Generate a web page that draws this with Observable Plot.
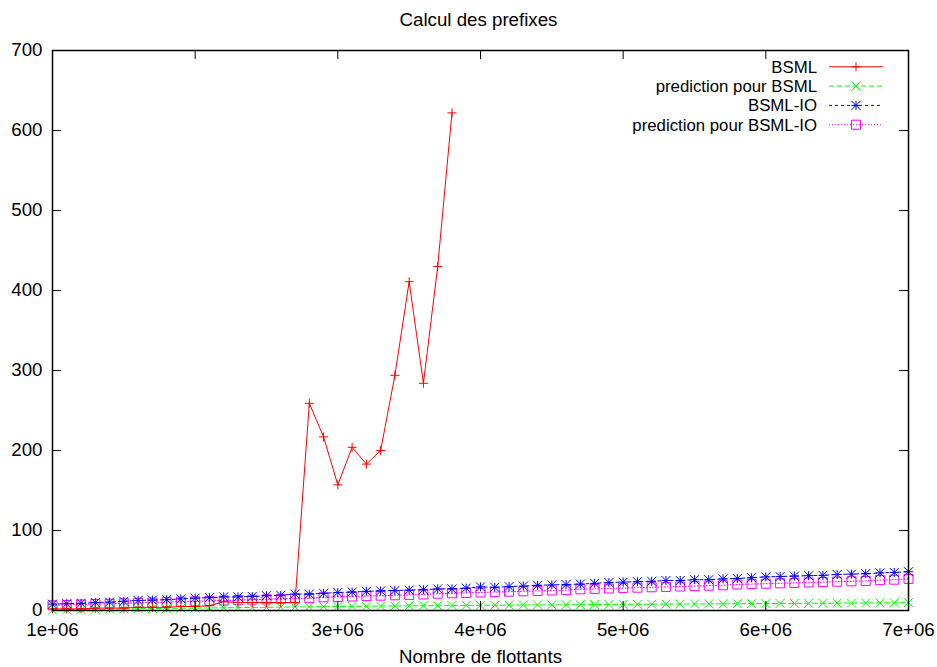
<!DOCTYPE html>
<html><head><meta charset="utf-8">
<script src="https://cdn.jsdelivr.net/npm/d3@7"></script>
<script src="https://cdn.jsdelivr.net/npm/@observablehq/plot@0.6"></script>
<style>html,body{margin:0;padding:0;background:#fff}</style>
</head><body><div id="chart"></div>
<script>
const FONT = "'Liberation Sans', Arial, Helvetica, sans-serif";
const FS = 18.7;
const KEY_FS = 16.8;

// number of floats, in millions
const nFloats = [1.0,1.1,1.2,1.3,1.4,1.5,1.6,1.7,1.8,1.9,2.0,2.1,2.2,2.3,2.4,2.5,2.6,2.7,2.8,2.9,
  3.0,3.1,3.2,3.3,3.4,3.5,3.6,3.7,3.8,3.9,4.0,4.1,4.2,4.3,4.4,4.5,4.6,4.7,4.8,4.9,
  5.0,5.1,5.2,5.3,5.4,5.5,5.6,5.7,5.8,5.9,6.0,6.1,6.2,6.3,6.4,6.5,6.6,6.7,6.8,6.9,7.0];

const bsml = [2,2,2,3,3,3,4,4,4,5,5,6,11,10,10,10,10,10,259,217,157,204,183,200,294,411,284,430,622];

const predBsml = [0.5,0.8,1.1,1.4,1.7,2.0,2.2,2.4,2.6,2.8,3.0,3.2,3.4,3.6,3.8,4.0,4.2,4.4,4.6,4.8,
  5.0,5.2,5.3,5.5,5.6,5.8,5.9,6.1,6.2,6.4,6.5,6.6,6.7,6.9,7.0,7.1,7.2,7.3,7.4,7.5,
  7.6,7.7,7.8,8.0,8.1,8.2,8.3,8.4,8.5,8.6,8.7,8.8,8.9,9.0,9.1,9.2,9.3,9.4,9.5,9.7,9.8];

const bsmlIO = [8,8.5,9,10,10.5,11.5,12.5,13,13.5,14.5,15.5,16,17,17,17.5,18.5,19,20.5,20.5,21.5,
  22.5,23,24,24.5,25,25.5,26,27,27,28,29.5,29,30,30.5,31.5,32,32.5,33,34,35,
  35.5,36,36.5,37.5,37.5,38.5,38.5,39.5,40,41,42,42.5,43,43.5,44,45,45.5,46,47,47.5,48.5];

const predBsmlIO = [6.5,7,7.5,8,8.5,9,9.5,10,10.5,11,11.5,12,12.5,13,13.5,14,14.5,15,15.5,16.5,
  17,17.5,18,18.5,19,19.5,20,21,21.5,22,22.5,23,23.5,24,24.5,25,25.5,26.5,27,27.5,
  28,28.5,29,29.5,30,30.5,31,31.5,32.5,33,33.5,34,34.5,35,35.5,36,36.5,37,38,38.5,39.5];

const xTicks = [1e6,2e6,3e6,4e6,5e6,6e6,7e6];
const xTickLabels = ["1e+06","2e+06","3e+06","4e+06","5e+06","6e+06","7e+06"];
const yTicks = [0,100,200,300,400,500,600,700];

const seriesNames = ["BSML","prediction pour BSML","BSML-IO","prediction pour BSML-IO"];
const seriesValues = [bsml, predBsml, bsmlIO, predBsmlIO];
const seriesColors = ["#ff0000","#00ff00","#0000ff","#ff00ff"];
const seriesDash = [null, "5,3", "3,3", "1,2"];

// gnuplot-like stroke symbols (half-length = sqrt(size/pi) = r)
const mk = (fn) => ({draw(ctx, size){ const s = Math.sqrt(size/Math.PI); fn(ctx, s); }});
const symPlus = mk((c,s)=>{c.moveTo(-s,0);c.lineTo(s,0);c.moveTo(0,-s);c.lineTo(0,s);});
const symCross = mk((c,s)=>{c.moveTo(-s,-s);c.lineTo(s,s);c.moveTo(-s,s);c.lineTo(s,-s);});
const symStar = mk((c,s)=>{c.moveTo(-s,0);c.lineTo(s,0);c.moveTo(0,-s);c.lineTo(0,s);
  c.moveTo(-s,-s);c.lineTo(s,s);c.moveTo(-s,s);c.lineTo(s,-s);});
const symBox = mk((c,s)=>{c.moveTo(-s,-s);c.lineTo(s,-s);c.lineTo(s,s);c.lineTo(-s,s);c.closePath();});
const seriesSymbols = [symPlus, symCross, symStar, symBox];
const R = 4.5;

const rows = (vals) => vals.map((v,i)=>({x: nFloats[i]*1e6, y: v}));

const W = 937, H = 667, ML = 52, MR = 29, MT = 50, MB = 57;
const frameW = W-ML-MR, frameH = H-MT-MB, TICK = 9;

const seriesMarks = [];
seriesValues.forEach((vals, k) => {
  const data = rows(vals);
  seriesMarks.push(Plot.line(data, {x:"x", y:"y", stroke: seriesColors[k], strokeWidth: 1,
    strokeDasharray: seriesDash[k] ?? undefined}));
  seriesMarks.push(Plot.dot(data, {x:"x", y:"y", symbol: seriesSymbols[k], r: R,
    stroke: seriesColors[k], fill: "none", strokeWidth: 1}));
});

const plot = Plot.plot({
  width: W, height: H,
  marginLeft: ML, marginRight: MR, marginTop: MT, marginBottom: MB,
  style: {fontFamily: FONT, fontSize: FS + "px", background: "white", color: "black"},
  x: {domain: [1e6, 7e6]},
  y: {domain: [0, 700]},
  marks: [
    ...seriesMarks.slice(6), ...seriesMarks.slice(4,6), ...seriesMarks.slice(2,4), ...seriesMarks.slice(0,2),
    Plot.tickX(xTicks, {x: d=>d, insetTop: frameH-TICK, stroke: "black"}),
    Plot.tickX(xTicks, {x: d=>d, insetBottom: frameH-TICK, stroke: "black"}),
    Plot.tickY(yTicks, {y: d=>d, insetRight: frameW-TICK, stroke: "black"}),
    Plot.tickY(yTicks, {y: d=>d, insetLeft: frameW-TICK, stroke: "black"}),
    Plot.frame({stroke: "black", strokeWidth: 1.5}),
    Plot.axisX({ticks: xTicks, tickSize: 0, tickPadding: 12, label: null,
      tickFormat: d => xTickLabels[xTicks.indexOf(d)], fontSize: FS}),
    Plot.axisY({ticks: yTicks, tickSize: 0, tickPadding: 10, label: null, fontSize: FS}),
    Plot.text(["Calcul des prefixes"], {frameAnchor: "top", lineAnchor: "middle", dy: -30, dx: -2, fontSize: FS, fill: "black"}),
    Plot.text(["Nombre de flottants"], {frameAnchor: "bottom", lineAnchor: "middle", dy: 47, fontSize: FS, fill: "black"})
  ]
});

// legend (gnuplot key, top right inside the frame)
const svg = d3.select(plot);
const key = svg.append("g").attr("font-family", FONT).attr("font-size", KEY_FS);
const keyTextX = 817, keyLine0 = 829, keyLine1 = 883, keyMark = 856, keyY0 = 66.8, keyDY = 19.3;
seriesNames.forEach((name, k) => {
  const y = keyY0 + k*keyDY;
  key.append("text").attr("x", keyTextX).attr("y", y).attr("dy", "0.35em")
    .attr("text-anchor", "end").attr("fill", "black").text(name);
  key.append("line").attr("x1", keyLine0).attr("x2", keyLine1).attr("y1", y).attr("y2", y)
    .attr("stroke", seriesColors[k]).attr("stroke-width", 1)
    .attr("stroke-dasharray", seriesDash[k]);
  key.append("path").attr("transform", `translate(${keyMark},${y})`)
    .attr("d", d3.symbol(seriesSymbols[k], Math.PI*R*R)())
    .attr("stroke", seriesColors[k]).attr("fill", "none").attr("stroke-width", 1);
});

document.getElementById("chart").append(plot);
</script>
</body></html>
